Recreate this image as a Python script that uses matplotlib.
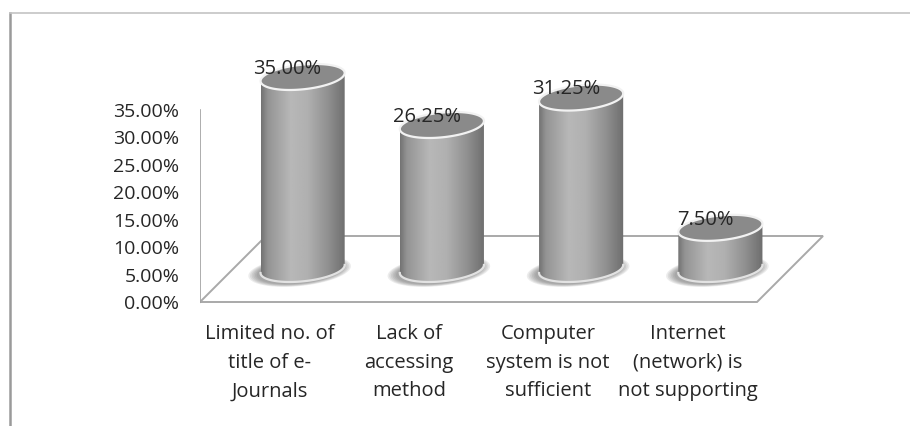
import numpy as np
import matplotlib
matplotlib.use('Agg')
import matplotlib.pyplot as plt
from matplotlib.patches import Polygon
from matplotlib.lines import Line2D

plt.rcParams['font.family'] = ['Open Sans', 'DejaVu Sans']

categories = ['Limited no. of\ntitle of e-\nJournals',
              'Lack of\naccessing\nmethod',
              'Computer\nsystem is not\nsufficient',
              'Internet\n(network) is\nnot supporting']
values = [35.00, 26.25, 31.25, 7.50]
value_labels = ['35.00%', '26.25%', '31.25%', '7.50%']
tick_values = [0, 5, 10, 15, 20, 25, 30, 35]
tick_labels = ['%.2f%%' % t for t in tick_values]

W, H = 910, 426
px_cat = 139.25   # pixels per category slot
px_pct = 5.486    # pixels per percent

# oblique 3D look: floor depth and cylinder cross-section, in data units
depth_x, depth_y = 66 / px_cat, 66 / px_pct
rad_x = 40 / px_cat
tilt_x, tilt_y = 13 / px_cat, 13 / px_pct

fig = plt.figure(figsize=(W / 100, H / 100), dpi=100)
fig.patch.set_facecolor('white')

xlim = (-0.5, -0.5 + 710 / px_cat)
ylim = (-2, 50)
ax = fig.add_axes([200 / W, (H - 302 - 2 * px_pct) / H,
                   (xlim[1] - xlim[0]) * px_cat / W, (ylim[1] - ylim[0]) * px_pct / H])
ax.set_facecolor('none')
for s in ax.spines.values():
    s.set_visible(False)


def ring(cx, cy, th, grow=1.0):
    return (cx + grow * (rad_x * np.cos(th) + tilt_x * np.sin(th)),
            cy + grow * tilt_y * np.sin(th))


# floor outline and value axis
fx = [-0.5, 3.5, 3.5 + depth_x, -0.5 + depth_x, -0.5]
fy = [0, 0, depth_y, depth_y, 0]
ax.plot(fx, fy, color='#a9a9a9', lw=1.4, zorder=1, solid_joinstyle='miter')
ax.plot([-0.5, -0.5], [0, tick_values[-1]], color='#a0a0a0', lw=1.2, zorder=1)

stops = [0.0, 0.08, 0.35, 0.55, 0.8, 1.0]
greys = [0.45, 0.58, 0.72, 0.69, 0.56, 0.43]
shade = np.interp(np.linspace(0, 1, 200), stops, greys)[None, :]

th_r = np.arctan2(tilt_x, rad_x)
front = np.linspace(th_r + np.pi, th_r + 2 * np.pi, 80)
full = np.linspace(0, 2 * np.pi, 120)

for i, (v, lab) in enumerate(zip(values, value_labels)):
    cx = i + depth_x / 2
    base = depth_y / 2
    top = base + v

    # soft shadow around the foot
    for g in np.linspace(1.22, 1.02, 6):
        sx, sy = ring(cx - 3 / px_cat, base - 2 / px_pct, full, g)
        ax.fill(sx, sy, color='#555555', alpha=0.11, lw=0, zorder=2)

    bx, by = ring(cx, base, front)
    tx, ty = ring(cx, top, front[::-1])
    body = Polygon(np.column_stack([np.r_[bx, tx], np.r_[by, ty]]),
                   closed=True, facecolor='none', edgecolor='none', zorder=3)
    ax.add_patch(body)
    hw = np.hypot(rad_x, tilt_x)
    im = ax.imshow(shade, cmap='gray', vmin=0, vmax=1, aspect='auto',
                   extent=[cx - hw, cx + hw, base - tilt_y, top + tilt_y],
                   interpolation='bilinear', zorder=3)
    im.set_clip_path(body)

    # light rim along the foot
    ax.plot(bx, by, color='#e2e2e2', lw=1.6, zorder=4)

    # cap
    ex, ey = ring(cx, top, full)
    ax.fill(ex, ey, facecolor='#8a8a8a', edgecolor='#f2f2f2', lw=1.6, zorder=5)

    ax.text(cx - 15 / px_cat, top + 1.5, lab, ha='center', va='center',
            fontsize=14.5, color='#262626', zorder=6)

ax.set_xlim(xlim)
ax.set_ylim(ylim)

ax.set_yticks(tick_values)
ax.set_yticklabels(tick_labels)
ax.set_xticks(range(len(categories)))
ax.set_xticklabels(categories, linespacing=1.58)
ax.tick_params(axis='y', length=0, pad=15, labelsize=14, labelcolor='#262626')
ax.tick_params(axis='x', length=0, pad=8, labelsize=14.5, labelcolor='#262626')

# outer frame of the chart area
fig.add_artist(Line2D([9.5 / W, 9.5 / W], [0, 1 - 13 / H], color='#9a9a9a', lw=1.8))
fig.add_artist(Line2D([9.5 / W, 1], [1 - 13 / H, 1 - 13 / H], color='#c4c4c4', lw=1.2))

fig.savefig('out.png', dpi=100)
